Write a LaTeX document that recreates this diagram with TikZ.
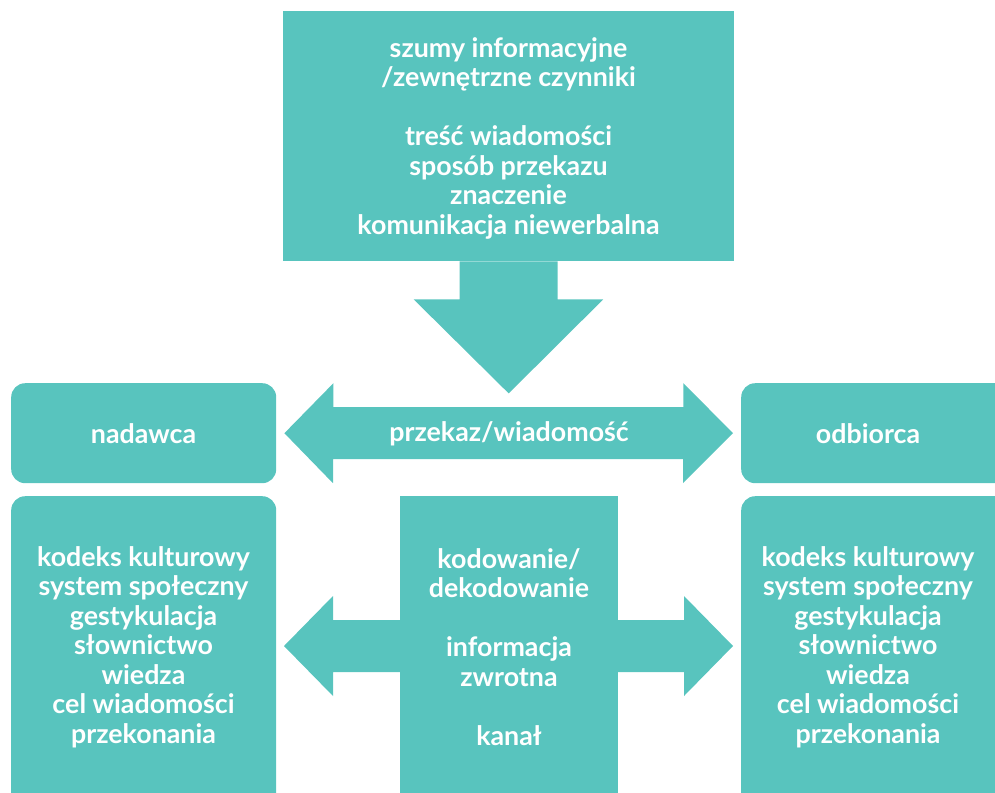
\documentclass[tikz,border=0pt]{standalone}
\usepackage{fontspec}
\setmainfont{Lato}
\usetikzlibrary{positioning}
\definecolor{morski}{RGB}{88,196,190}
\tikzset{
  pole/.style={fill=morski, inner sep=0pt, anchor=north west},
  okienko/.style={pole, rounded corners=14pt},
  opis/.style={text=white, align=center, inner sep=0pt}
}
\begin{document}
\begin{tikzpicture}[x=1pt, y=-1pt, font=\fontsize{26.8}{29.5}\selectfont\bfseries]
	\useasboundingbox (0,0) rectangle (995,792);
	\clip (0,0) rectangle (995,792);
	% pola
	\node[pole, minimum width=451, minimum height=250] (szumy) at (283,11) {};
	\node[okienko, minimum width=265, minimum height=100] (nadawca) at (11,383) {};
	\node[okienko, minimum width=280, minimum height=100] (odbiorca) at (741,383) {};
	\node[okienko, minimum width=265, minimum height=340] (kodeksN) at (11,496) {};
	\node[pole, minimum width=218, minimum height=340] (kanal) at (400,496) {};
	\node[okienko, minimum width=280, minimum height=340] (kodeksO) at (741,496) {};
	% strzalki
	\path (szumy.south) ++(0,132) coordinate (S)
		(nadawca.east) ++(8,0) coordinate (L_1)
		(odbiorca.west) ++(-8,0) coordinate (P_1)
		(284,646) coordinate (L_2)
		(733,646) coordinate (P_2);
	\fill[morski] (szumy.south) ++(-49,0) -- ++(0,38) -- ++(-46,0) -- (S)
		-- ++(94.5,-94) -- ++(-45.5,0) -- ++(0,-38) -- cycle;
	\fill[morski] (L_1) -- ++(49,-50) -- ++(0,24) -- ++(350,0) -- ++(0,-24) -- (P_1)
		-- ++(-50,50) -- ++(0,-24) -- ++(-350,0) -- ++(0,24) -- cycle;
	\foreach \t/\s in {L_2/1, P_2/-1}{
		\fill[morski] (\t) -- ++(49*\s,-50) -- ++(0,24) -- ++(70*\s,0) -- ++(0,52)
			-- ++(-70*\s,0) -- ++(0,24) -- cycle;
	}
	% opisy
	\node[opis] (szumyOpis) at (508.5,138) {szumy informacyjne\\/zewnętrzne czynniki\\[29.5pt]treść wiadomości\\sposób przekazu\\znaczenie\\komunikacja niewerbalna};
	\node[opis] (nadawcaOpis) at (143.5,434) {nadawca};
	\node[opis] (odbiorcaOpis) at (868,434) {odbiorca};
	\node[opis] (przekaz) at (509,434) {przekaz/wiadomość};
	\foreach \n/\x in {kodeksNOpis/143.5, kodeksOOpis/868}{
		\node[opis] (\n) at (\x,647) {kodeks kulturowy\\system społeczny\\gestykulacja\\słownictwo\\wiedza\\cel wiadomości\\przekonania};
	}
	\node[opis] (kanalOpis) at (509,647) {kodowanie/\\dekodowanie\\[29.5pt]informacja\\zwrotna\\[29.5pt]kanał};
\end{tikzpicture}
\end{document}
